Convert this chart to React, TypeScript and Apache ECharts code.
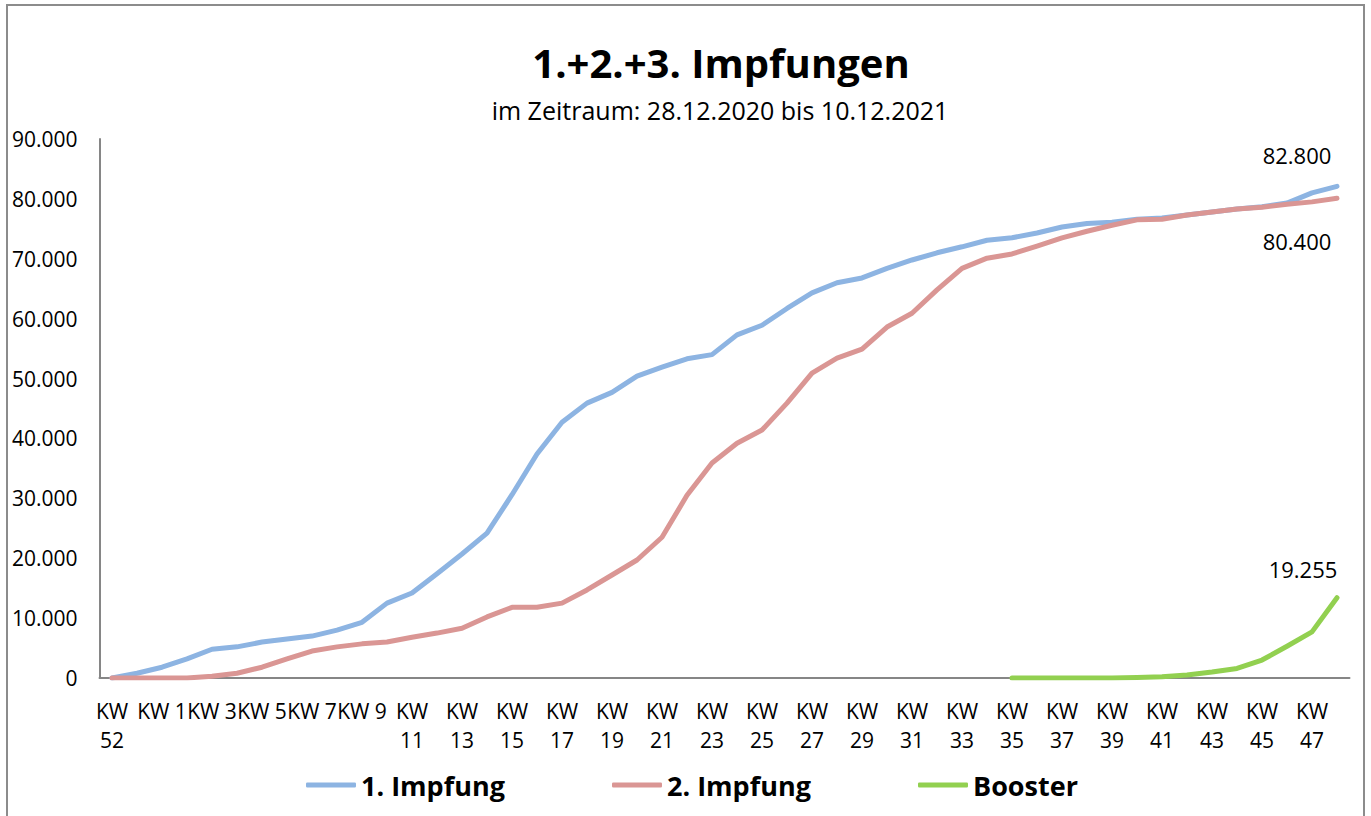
import { useEffect, useRef } from "react";
import * as echarts from "echarts";

const categories = [
  "KW 52", "KW 53", "KW 1", "KW 2", "KW 3", "KW 4", "KW 5", "KW 6", "KW 7", "KW 8",
  "KW 9", "KW 10", "KW 11", "KW 12", "KW 13", "KW 14", "KW 15", "KW 16", "KW 17", "KW 18",
  "KW 19", "KW 20", "KW 21", "KW 22", "KW 23", "KW 24", "KW 25", "KW 26", "KW 27", "KW 28",
  "KW 29", "KW 30", "KW 31", "KW 32", "KW 33", "KW 34", "KW 35", "KW 36", "KW 37", "KW 38",
  "KW 39", "KW 40", "KW 41", "KW 42", "KW 43", "KW 44", "KW 45", "KW 46", "KW 47", "KW 48",
];

const firstDose = [
  0, 800, 1800, 3200, 4800, 5200, 6000, 6500, 7000, 8000,
  9300, 12500, 14200, 17400, 20700, 24200, 30600, 37400, 42700, 45900,
  47700, 50400, 51900, 53300, 54000, 57300, 58900, 61700, 64300, 66000,
  66800, 68400, 69800, 71000, 72000, 73100, 73500, 74300, 75300, 75900,
  76100, 76600, 76800, 77300, 77800, 78300, 78700, 79300, 81000, 82100,
];

const secondDose = [
  0, 0, 0, 0, 300, 800, 1800, 3200, 4500, 5200,
  5700, 6000, 6800, 7500, 8300, 10200, 11800, 11800, 12500, 14700,
  17200, 19700, 23500, 30500, 35900, 39200, 41400, 45900, 50900, 53400,
  54900, 58600, 60900, 64800, 68400, 70100, 70800, 72100, 73500, 74600,
  75600, 76500, 76600, 77300, 77800, 78300, 78600, 79100, 79500, 80100,
];

const booster: (number | null)[] = [
  null, null, null, null, null, null, null, null, null, null,
  null, null, null, null, null, null, null, null, null, null,
  null, null, null, null, null, null, null, null, null, null,
  null, null, null, null, null, null, 0, 0, 0, 0,
  0, 100, 200, 500, 1000, 1600, 3000, 5300, 7700, 13400,
];

const seriesNames = ["1. Impfung", "2. Impfung", "Booster"];
const seriesColors = ["#8DB4E2", "#DA9694", "#92D050"];
const endLabels = ["82.800", "80.400", "19.255"];
const titleText = "1.+2.+3. Impfungen";
const subtitleText = "im Zeitraum: 28.12.2020 bis 10.12.2021";
const yMax = 90000;
const yStep = 10000;

const FONT = "'Open Sans', 'Noto Sans', sans-serif";

export default function App() {
  const ref = useRef<HTMLDivElement>(null);

  useEffect(() => {
    const chart = echarts.init(ref.current!, null, { renderer: "svg" });

    const labelCfg = [
      { position: "top", offset: [-40, -18] },
      { position: "bottom", offset: [-40, 29] },
      { position: "top", offset: [-34, -15] },
    ];

    const withEndLabel = (arr: (number | null)[], k: number) =>
      arr.map((v, i) =>
        i === arr.length - 1
          ? {
              value: v,
              symbol: "circle",
              symbolSize: 1,
              label: {
                show: true,
                formatter: endLabels[k],
                position: labelCfg[k].position,
                distance: 0,
                offset: labelCfg[k].offset,
                color: "#000",
                fontFamily: FONT,
                fontSize: 22,
                lineHeight: 26,
              },
            }
          : v
      );

    const dataSets = [firstDose, secondDose, booster];

    chart.setOption({
      animation: false,
      backgroundColor: "#ffffff",
      graphic: [
        {
          type: "rect",
          shape: { x: 7, y: 5, width: 1357, height: 830 },
          style: { fill: "none", stroke: "#8c8c8c", lineWidth: 2 },
          silent: true,
          z: -1,
        },
        {
          type: "text",
          x: 721,
          y: 62,
          style: {
            text: titleText,
            fontFamily: FONT,
            fontWeight: "bold",
            fontSize: 40,
            fill: "#000",
            align: "center",
            verticalAlign: "middle",
          },
        },
        {
          type: "text",
          x: 720,
          y: 110,
          style: {
            text: subtitleText,
            fontFamily: FONT,
            fontSize: 25,
            fill: "#000",
            align: "center",
            verticalAlign: "middle",
          },
        },
      ],
      legend: {
        data: seriesNames,
        left: 306,
        top: 768,
        padding: 0,
        itemGap: 5,
        itemWidth: 50,
        itemHeight: 5,
        icon: "roundRect",
        textStyle: {
          fontFamily: FONT,
          fontWeight: "bold",
          fontSize: 27,
          color: "#000",
          width: 246,
          lineHeight: 34,
        },
      },
      grid: {
        left: 99.5,
        right: 21.5,
        top: 139,
        bottom: 138,
        containLabel: false,
      },
      xAxis: {
        type: "category",
        data: categories,
        boundaryGap: true,
        axisLine: { show: true, lineStyle: { color: "#868686", width: 2 } },
        axisTick: { show: false },
        axisLabel: {
          interval: 1,
          margin: 18,
          fontFamily: FONT,
          fontSize: 21,
          lineHeight: 29,
          color: "#000",
          formatter: (v: string) => {
            const parts = v.split(" ");
            return parts[1].length > 1 ? parts[0] + "\n" + parts[1] : v;
          },
        },
        splitLine: { show: false },
      },
      yAxis: {
        type: "value",
        min: 0,
        max: yMax,
        interval: yStep,
        axisLine: { show: true, lineStyle: { color: "#868686", width: 2 } },
        axisTick: { show: false },
        splitLine: { show: false },
        axisLabel: {
          margin: 22,
          fontFamily: FONT,
          fontSize: 21,
          color: "#000",
          formatter: (v: number) => (v === 0 ? "0" : String(v / 1000) + ".000"),
        },
      },
      series: dataSets.map((arr, k) => ({
        name: seriesNames[k],
        type: "line",
        data: withEndLabel(arr, k),
        symbol: "none",
        showSymbol: true,
        showAllSymbol: true,
        connectNulls: false,
        color: seriesColors[k],
        itemStyle: { color: seriesColors[k] },
        lineStyle: { color: seriesColors[k], width: 5, cap: "round", join: "round" },
      })),
    });

    return () => chart.dispose();
  }, []);

  return (
    <div
      ref={ref}
      style={{ position: "absolute", left: 0, top: 0, width: 1371, height: 816, background: "#fff" }}
    />
  );
}
